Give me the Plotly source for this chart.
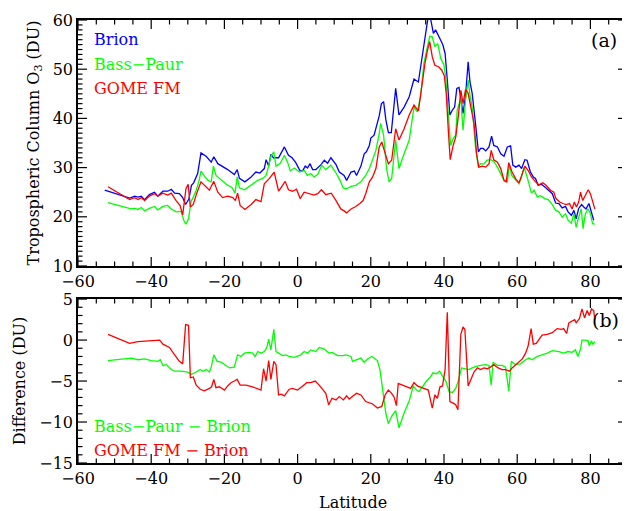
import plotly.graph_objects as go

# ---- data (latitude, DU) ----
brion_lat = [-52.7, -45.9, -44.5, -43.6, -42.7, -41.8, -40.5, -39.1, -38.2, -36.8, -35.5, -34.5, -33.6, -32.3,
             -31.4, -30.6, -29.7, -29.0, -28.4, -27.3, -26.4, -25.0, -23.6, -22.9, -21.8, -20.5, -19.1, -17.3,
             -16.5, -15.9, -14.4, -12.7, -11.4, -10.3, -9.1, -8.6, -7.9, -7.3, -6.6, -5.2, -3.6, -2.5, -1.5,
             -0.5, 0.7, 1.4, 2.1, 2.7, 3.4, 4.1, 5.0, 6.4, 7.3, 8.2, 9.1, 10.5, 11.4, 12.7, 13.4, 14.6, 15.5,
             16.1, 17.3, 18.2, 18.8, 19.6, 20.0, 20.9, 21.6, 22.3, 22.9, 23.5, 24.1, 24.8, 25.6, 26.2, 26.8,
             27.7, 29.1, 30.5, 31.8, 33.0, 34.1, 34.8, 35.3, 35.7, 36.4, 37.1, 37.7, 38.4, 39.1, 39.7, 40.3,
             40.9, 41.6, 42.3, 42.9, 43.5, 44.1, 44.6, 45.2, 45.9, 46.6, 47.1, 47.7, 48.6, 49.4, 50.0, 50.7,
             51.4, 52.3, 53.0, 53.6, 54.6, 55.5, 56.4, 57.3, 58.2, 58.8, 59.6, 60.5, 61.2, 62.1, 62.7, 63.6,
             64.4, 65.0, 65.7, 66.6, 67.5, 68.5, 69.6, 70.5, 71.4, 72.3, 73.2, 73.9, 74.8, 75.5, 76.1, 76.8,
             77.6, 78.2, 78.8, 79.6, 80.3, 80.9]
brion = [25.4, 23.8, 24.2, 24.0, 24.2, 23.5, 24.5, 25.0, 24.2, 25.2, 25.2, 25.6, 24.8, 24.7,
         23.9, 22.5, 23.6, 26.4, 26.9, 28.8, 33.0, 32.3, 31.1, 32.2, 30.8, 30.3, 29.6, 28.6,
         29.6, 27.8, 27.1, 28.1, 29.1, 28.9, 29.8, 31.6, 30.3, 32.7, 32.0, 32.0, 34.2, 32.5, 32.0,
         31.0, 29.3, 29.4, 30.3, 29.9, 30.8, 29.6, 29.6, 30.6, 31.5, 30.9, 32.0, 30.6, 29.1, 28.4, 27.4, 29.1, 29.3,
         28.4, 30.3, 32.8, 33.2, 34.5, 36.0, 36.6, 38.3, 40.5, 43.0, 43.4, 39.8, 37.1, 37.1, 41.7, 46.1,
         40.7, 42.3, 44.4, 48.0, 47.4, 52.5, 55.9, 58.5, 60.8, 60.0, 57.3, 58.0, 57.1, 55.9, 54.9, 53.2,
         47.8, 40.7, 41.7, 42.3, 46.1, 46.3, 44.0, 41.0, 44.7, 51.5, 47.4, 45.1, 39.0, 33.2, 33.9, 33.9,
         33.4, 34.2, 36.4, 34.5, 34.2, 32.8, 32.3, 34.2, 34.4, 30.5, 30.1, 30.5, 29.8, 31.6, 31.5, 29.1,
         28.1, 27.8, 26.4, 26.6, 26.1, 25.5, 24.7, 22.8, 22.7, 21.8, 22.1, 21.0, 20.3, 21.3, 19.6, 21.7,
         22.5, 22.0, 21.6, 22.7, 20.6, 19.3]

bp_lat = [-51.8, -48.6, -45.5, -44.5, -43.6, -42.7, -41.8, -40.5, -39.1, -38.2, -36.8, -35.5, -34.5, -33.2,
          -31.8, -31.1, -30.5, -29.8, -29.1, -28.5, -27.7, -27.0, -26.4, -25.5, -24.5, -23.6, -23.0, -22.3,
          -20.9, -19.5, -17.9, -17.1, -16.5, -15.9, -14.5, -12.7, -10.9, -9.5, -8.6, -8.0, -7.3, -6.5, -5.9,
          -4.8, -3.6, -2.7, -2.0, -0.9, 0.5, 1.8, 2.7, 3.6, 4.5, 5.5, 6.6, 7.7, 9.1, 10.5, 11.6, 12.5, 13.4,
          14.6, 15.9, 17.3, 18.6, 19.6, 20.5, 21.4, 22.3, 22.7, 23.5, 24.3, 25.0, 25.7, 26.8, 27.7, 29.1,
          30.5, 31.8, 32.7, 33.6, 34.5, 35.3, 36.1, 36.8, 37.5, 38.3, 39.1, 40.0, 40.5, 41.1, 41.8, 42.5,
          43.2, 43.6, 44.6, 45.2, 45.9, 46.6, 47.1, 47.7, 48.6, 49.4, 50.0, 50.9, 51.8, 52.7, 53.6, 54.6,
          55.5, 56.4, 57.3, 57.9, 58.5, 59.4, 60.5, 61.2, 61.9, 62.7, 63.4, 63.9, 64.6, 65.5, 66.4, 67.5,
          68.5, 69.4, 70.5, 71.4, 72.3, 73.2, 73.9, 74.8, 75.5, 76.1, 76.8, 77.5, 78.0, 78.6, 79.4, 80.0,
          80.6, 81.2]
bass_paur = [22.9, 22.3, 21.6, 21.7, 21.5, 21.9, 21.2, 21.7, 22.1, 21.4, 22.1, 22.3, 21.6, 21.0,
             21.1, 19.3, 18.5, 19.6, 23.1, 24.0, 25.4, 27.1, 29.3, 28.3, 27.4, 27.1, 30.3, 28.4,
             27.4, 26.6, 25.9, 24.8, 28.1, 25.9, 25.5, 26.4, 27.4, 27.8, 28.4, 30.1, 32.3, 33.2, 30.3,
             30.8, 32.5, 31.0, 29.3, 29.9, 29.1, 29.4, 28.4, 28.8, 28.1, 28.6, 30.5, 29.6, 30.5, 28.9, 27.4, 25.8, 25.7,
             26.2, 26.4, 27.1, 28.4, 29.8, 31.5, 33.5, 36.9, 39.0, 36.6, 29.8, 27.1, 27.8, 35.6, 29.8, 32.8,
             35.6, 42.3, 41.3, 44.4, 51.2, 54.0, 56.7, 56.6, 54.6, 55.2, 52.2, 50.8, 48.1, 41.7, 34.5, 35.9,
             36.6, 41.7, 44.0, 37.6, 43.7, 47.8, 44.7, 42.3, 34.2, 30.1, 30.8, 30.7, 31.5, 31.6, 31.3, 30.1,
             28.9, 27.4, 27.1, 30.5, 28.4, 27.7, 26.7, 28.1, 30.1, 28.1, 26.4, 24.8, 25.4, 24.0, 24.3, 23.7,
             23.5, 22.7, 21.3, 21.0, 19.9, 20.6, 19.3, 18.7, 20.6, 17.9, 19.9, 21.6, 17.6, 20.6, 21.6, 20.6,
             18.6, 18.5]

gome_lat = [-51.8, -48.6, -45.9, -44.5, -43.6, -42.7, -41.8, -40.5, -39.1, -38.2, -36.8, -35.5, -34.5, -33.2,
            -32.1, -31.4, -30.5, -29.9, -29.3, -28.5, -27.6, -26.4, -25.5, -24.1, -22.9, -21.8, -20.5, -19.1,
            -17.7, -17.0, -16.4, -15.7, -14.4, -12.7, -11.4, -10.0, -9.1, -7.7, -6.4, -5.2, -4.1, -3.4, -2.5,
            -1.4, -0.3, 0.7, 1.8, 3.2, 4.5, 5.5, 6.5, 7.7, 9.2, 10.5, 11.8, 12.7, 13.4, 14.6, 15.9, 17.0,
            17.9, 18.6, 19.6, 20.5, 21.4, 22.3, 23.0, 23.8, 24.8, 25.7, 26.8, 27.7, 29.1, 30.5, 31.8, 33.0,
            33.9, 34.8, 35.5, 36.1, 36.8, 37.5, 38.5, 39.4, 40.1, 40.6, 41.2, 41.7, 42.5, 43.2, 43.9, 44.6,
            45.2, 45.9, 46.6, 47.3, 48.2, 48.9, 49.5, 50.5, 51.4, 52.3, 52.9, 53.6, 54.6, 55.5, 56.4, 57.0,
            57.7, 58.6, 59.6, 60.5, 61.4, 62.1, 63.0, 63.9, 65.0, 65.9, 67.0, 67.9, 69.1, 70.0, 70.6, 71.6,
            72.5, 73.4, 74.3, 75.0, 75.6, 76.2, 76.8, 77.3, 77.9, 78.6, 79.4, 80.0, 80.6, 81.2]
gome_fm = [26.1, 24.7, 23.5, 23.9, 23.5, 23.9, 23.3, 24.2, 24.7, 24.2, 24.8, 24.4, 24.8, 23.3,
           22.3, 20.4, 25.7, 26.6, 22.0, 22.5, 24.7, 27.1, 26.4, 25.4, 27.2, 25.0, 23.9, 24.2,
           23.9, 23.3, 24.8, 22.3, 21.5, 22.5, 23.5, 23.1, 26.7, 27.8, 29.1, 25.2, 26.4, 27.2, 25.5,
           25.2, 25.6, 23.7, 25.0, 24.7, 24.4, 24.7, 25.5, 24.5, 24.8, 23.3, 21.6, 21.2, 20.8, 21.6, 22.1, 22.7,
           23.3, 24.7, 27.1, 28.1, 29.8, 34.2, 35.2, 33.2, 30.8, 31.5, 37.9, 35.6, 37.9, 40.7, 42.7, 41.5,
           46.8, 51.2, 53.9, 55.6, 52.5, 50.8, 50.5, 49.8, 48.6, 45.1, 37.3, 31.6, 34.5, 36.2, 40.3, 45.7,
           43.0, 45.9, 45.1, 42.3, 39.0, 32.8, 30.1, 30.3, 30.1, 30.8, 33.5, 31.6, 31.1, 29.8, 27.4, 27.1,
           31.0, 29.1, 27.7, 26.9, 28.8, 30.3, 29.4, 28.1, 27.1, 26.5, 26.9, 26.4, 25.4, 25.0, 23.7, 23.0,
           22.7, 22.5, 22.7, 21.6, 23.0, 22.0, 23.0, 25.0, 23.3, 24.4, 25.5, 24.7, 23.0, 21.6]

dbp_lat = [-51.8, -45.5, -43.6, -41.8, -40.0, -38.2, -37.5, -36.8, -35.9, -34.5, -33.6, -31.8, -30.0, -29.1,
           -27.7, -26.6, -25.9, -25.0, -24.1, -23.6, -22.9, -22.0, -20.9, -20.2, -18.6, -17.3, -16.4, -15.5,
           -14.5, -13.2, -12.3, -11.6, -10.9, -10.0, -9.1, -8.4, -7.9, -7.3, -6.5, -5.9, -5.0, -4.1, -3.2,
           -2.3, -0.9, 0.0, 0.9, 1.8, 2.7, 3.6, 5.0, 5.9, 7.3, 8.6, 9.5, 10.9, 12.3, 13.2, 14.6, 15.0,
           16.4, 17.3, 18.2, 19.1, 20.3, 20.9, 21.8, 22.5, 23.2, 24.1, 24.8, 25.7, 26.8, 27.7, 29.1, 30.5,
           31.6, 32.5, 33.2, 34.1, 35.2, 36.1, 37.0, 37.9, 38.8, 39.6, 40.5, 41.4, 42.3, 43.2, 43.9, 44.8,
           45.7, 46.8, 47.7, 48.8, 50.0, 51.4, 52.3, 52.9, 53.4, 54.6, 55.9, 56.8, 57.7, 58.4, 59.6, 60.9,
           62.3, 63.2, 64.1, 65.5, 66.8, 68.2, 69.6, 71.4, 72.7, 73.9, 75.0, 75.9, 76.6, 77.3, 77.7, 78.6,
           79.4, 79.7, 80.3, 80.7, 81.2]
diff_bp = [-2.5, -2.2, -2.4, -2.3, -2.5, -2.6, -2.4, -3.1, -3.0, -3.6, -3.8, -3.8, -3.9, -4.2,
           -3.9, -3.6, -3.8, -3.6, -3.9, -3.3, -1.8, -2.6, -2.7, -2.9, -3.4, -3.3, -1.8, -2.0,
           -1.6, -1.5, -1.6, -2.0, -1.4, -1.6, -1.4, -0.9, 0.1, -1.2, 1.3, -1.4, -1.6, -1.9, -1.8,
           -2.0, -2.1, -1.9, -1.8, -1.4, -1.6, -1.2, -1.4, -0.9, -1.1, -1.6, -1.5, -1.9, -1.9, -1.8, -2.0, -2.6,
           -2.3, -2.2, -2.7, -2.3, -2.0, -2.2, -2.5, -3.6, -6.1, -8.9, -10.2, -9.3, -8.6, -10.7, -8.9, -7.4,
           -5.6, -6.1, -6.3, -5.7, -5.0, -4.6, -4.0, -4.1, -3.8, -4.4, -5.0, -6.3, -6.4, -5.9, -5.0, -3.4,
           -3.5, -3.6, -3.4, -3.2, -3.1, -3.0, -3.1, -5.5, -2.7, -3.1, -3.1, -3.3, -6.2, -2.6, -3.0, -2.9,
           -2.4, -2.2, -2.4, -2.0, -1.8, -1.6, -1.3, -1.4, -1.6, -1.4, -1.5, -1.2, -2.0, -1.1, 0.0, 0.0,
           -0.1, -0.7, -0.1, -0.5, -0.2]

dgome_lat = [-51.8, -45.9, -43.6, -41.4, -39.1, -37.7, -36.8, -35.0, -33.6, -32.3, -31.4, -30.6, -29.8, -29.3,
             -28.5, -27.7, -26.6, -25.5, -24.1, -23.5, -22.9, -22.3, -21.4, -20.6, -20.0, -19.1, -18.2, -17.3,
             -16.5, -15.7, -14.1, -12.3, -10.9, -10.0, -9.3, -8.6, -7.9, -7.3, -6.5, -5.9, -5.2, -4.5, -3.6,
             -2.3, -1.4, 0.0, 1.4, 2.5, 3.6, 4.8, 5.9, 7.0, 7.7, 8.5, 9.4, 10.5, 11.4, 12.5, 13.4, 14.1,
             15.0, 16.1, 17.3, 18.6, 20.5, 21.8, 23.0, 23.9, 24.8, 25.7, 26.4, 27.0, 27.5, 28.6, 30.0, 30.9,
             31.8, 32.7, 34.5, 35.7, 36.8, 37.5, 38.2, 38.9, 39.6, 40.3, 40.9, 41.6, 42.5, 43.2, 43.8, 44.6,
             45.2, 45.7, 46.6, 47.3, 48.2, 49.1, 50.0, 50.9, 51.8, 52.7, 53.6, 54.8, 55.9, 56.8, 57.9, 58.6,
             60.0, 61.4, 62.3, 63.0, 63.8, 64.4, 65.2, 65.9, 66.8, 68.2, 69.6, 70.9, 72.1, 72.7, 73.5, 74.1,
             75.0, 75.7, 76.1, 77.0, 77.7, 78.4, 79.1, 79.7, 80.3, 80.9, 81.2]
diff_gome = [0.7, -0.4, -0.2, -0.1, 0.0, 0.0, -0.5, -0.9, -1.8, -2.6, -2.9, 1.9, 1.8, -4.6,
             -4.5, -5.5, -6.0, -6.2, -5.9, -5.7, -4.8, -5.8, -5.7, -5.9, -6.1, -5.6, -5.2, -5.0,
             -4.8, -5.5, -5.5, -5.7, -5.9, -6.1, -3.5, -5.0, -2.5, -4.8, -2.6, -3.0, -6.7, -6.6, -6.8,
             -6.0, -5.9, -6.1, -5.6, -5.2, -5.2, -5.0, -5.5, -6.2, -6.5, -7.9, -7.1, -7.3, -6.9, -7.3, -6.8, -7.2,
             -6.9, -6.5, -6.7, -7.5, -7.8, -8.3, -8.1, -6.7, -6.1, -6.5, -7.0, -8.0, -5.3, -5.5, -5.7, -5.9,
             -5.2, -5.6, -5.9, -6.1, -8.3, -6.7, -7.1, -5.7, -5.6, -3.6, 3.4, -7.5, -7.7, -7.9, -8.5, 0.7,
             1.6, 1.3, -5.6, -4.8, -3.9, -3.4, -3.6, -3.4, -3.5, -3.3, -3.0, -3.4, -3.6, -3.6, -3.8, -3.4,
             -2.9, -2.3, -1.6, -0.7, 1.4, -0.5, -0.4, 0.1, 0.6, 0.7, 0.9, 1.4, 1.3, 1.4, 0.8, 2.1,
             2.3, 2.5, 2.1, 2.6, 3.8, 2.7, 3.6, 3.0, 3.8, 3.6, 2.5]

# axis ranges and tick values
x_range = [-60, 90]
y1_range = [10, 60]
y2_range = [-15, 5]
x_ticks = [-60, -40, -20, 0, 20, 40, 60, 80]
x_minor = [v for v in range(-60, 91, 5) if v not in x_ticks]
y1_ticks = [10, 20, 30, 40, 50, 60]
y1_minor = [v for v in range(10, 61) if v not in y1_ticks]
y2_ticks = [-15, -10, -5, 0, 5]
y2_minor = [v for v in range(-15, 6) if v not in y2_ticks]

BLUE, GREEN, RED = "#0000ff", "#00ff00", "#ff0000"
FONT = "DejaVu Serif"

# plot-area size in pixels, used to turn tick lengths into axis units
PLOT_W = 549
TOP_H = 246
BOT_H = 164

fig = go.Figure()

# panel (a)
for lat, vals, col, name in [(brion_lat, brion, BLUE, "Brion"),
                             (bp_lat, bass_paur, GREEN, "Bass-Paur"),
                             (gome_lat, gome_fm, RED, "GOME FM")]:
    fig.add_trace(go.Scatter(x=lat, y=vals, mode="lines", name=name,
                             line=dict(color=col, width=1.3), xaxis="x", yaxis="y"))

# panel (b)
fig.add_trace(go.Scatter(x=dbp_lat, y=diff_bp, mode="lines", name="Bass-Paur - Brion",
                         line=dict(color=GREEN, width=1.3), xaxis="x2", yaxis="y2"))
fig.add_trace(go.Scatter(x=dgome_lat, y=diff_gome, mode="lines", name="GOME FM - Brion",
                         line=dict(color=RED, width=1.3), xaxis="x2", yaxis="y2"))


# IDL-style inward ticks on all four sides, as short line segments
def add_ticks(xa, ya, xr, yr, plot_h, xmaj, xmin, ymaj, ymin):
    dy = (yr[1] - yr[0]) / plot_h    # axis units per pixel (vertical)
    dx = (xr[1] - xr[0]) / PLOT_W    # axis units per pixel (horizontal)
    tx, ty = [], []
    for vals, length in [(xmaj, 9), (xmin, 4.5)]:
        for v in vals:
            tx += [v, v, None, v, v, None]
            ty += [yr[0], yr[0] + length * dy, None, yr[1], yr[1] - length * dy, None]
    for vals, length in [(ymaj, 9), (ymin, 4.5)]:
        for v in vals:
            tx += [xr[0], xr[0] + length * dx, None, xr[1], xr[1] - length * dx, None]
            ty += [v, v, None, v, v, None]
    fig.add_trace(go.Scatter(x=tx, y=ty, mode="lines", line=dict(color="black", width=1.2),
                             hoverinfo="skip", xaxis=xa, yaxis=ya))


add_ticks("x", "y", x_range, y1_range, TOP_H, x_ticks, x_minor, y1_ticks, y1_minor)
add_ticks("x2", "y2", x_range, y2_range, BOT_H, x_ticks, x_minor, y2_ticks, y2_minor)

axis_style = dict(showline=True, linecolor="black", linewidth=1.5, mirror=True,
                  ticks="", showgrid=False, zeroline=False,
                  tickfont=dict(family=FONT, size=16, color="black"))

fig.update_layout(
    template="none",
    width=622, height=503,
    margin=dict(l=70, r=3, t=12, b=48),
    paper_bgcolor="white", plot_bgcolor="white",
    showlegend=False,
    font=dict(family=FONT, size=16, color="black"),
    xaxis=dict(axis_style, range=x_range, tickmode="array", tickvals=x_ticks,
               domain=[0, 1], anchor="y"),
    yaxis=dict(axis_style, range=y1_range, tickmode="array", tickvals=y1_ticks,
               domain=[0.4447, 1], anchor="x",
               title=dict(text="Tropospheric Column O<sub>3</sub> (DU)", standoff=9,
                          font=dict(family=FONT, size=16))),
    xaxis2=dict(axis_style, range=x_range, tickmode="array", tickvals=x_ticks,
                domain=[0, 1], anchor="y2"),
    yaxis2=dict(axis_style, range=y2_range, tickmode="array", tickvals=y2_ticks,
                domain=[0, 0.370], anchor="x2",
                title=dict(text="Difference (DU)", standoff=10, font=dict(family=FONT, size=16))),
)

labels = [
    ("x", "y", -56.2, 56.0, "Brion", BLUE),
    ("x", "y", -56.2, 50.9, "Bass−Paur", GREEN),
    ("x", "y", -56.2, 46.0, "GOME FM", RED),
    ("x2", "y2", -56.2, -10.5, "Bass−Paur − Brion", GREEN),
    ("x2", "y2", -56.2, -13.5, "GOME FM − Brion", RED),
]
for xr, yr, x, y, txt, col in labels:
    fig.add_annotation(xref=xr, yref=yr, x=x, y=y, text=txt, showarrow=False,
                       xanchor="left", yanchor="middle",
                       font=dict(family=FONT, size=16, color=col))

fig.add_annotation(xref="x", yref="y", x=83.6, y=56.0, text="(a)", showarrow=False,
                   xanchor="center", yanchor="middle", font=dict(family=FONT, size=19, color="black"))
fig.add_annotation(xref="x2", yref="y2", x=84.2, y=2.5, text="(b)", showarrow=False,
                   xanchor="center", yanchor="middle", font=dict(family=FONT, size=19, color="black"))
fig.add_annotation(xref="paper", yref="paper", x=0.5, y=-0.09, text="Latitude", showarrow=False,
                   xanchor="center", yanchor="middle", font=dict(family=FONT, size=16, color="black"))

fig.write_html("out.html")
